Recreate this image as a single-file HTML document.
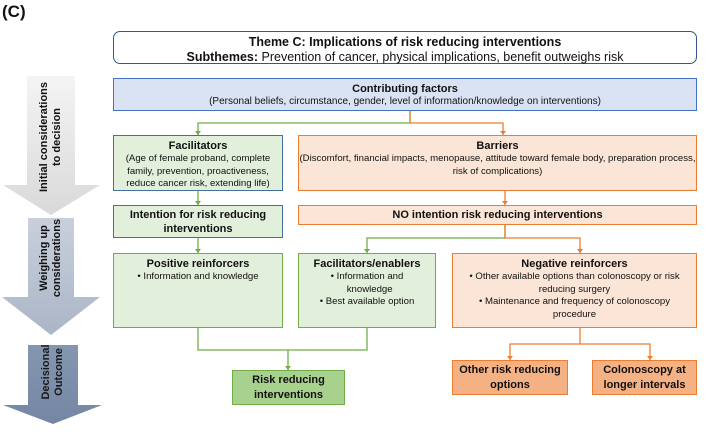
<!DOCTYPE html>
<html><head><meta charset="utf-8"><style>
body{margin:0;width:709px;height:424px;background:#fff;position:relative;overflow:hidden;font-family:"Liberation Sans",sans-serif;color:#111}
.b{position:absolute;box-sizing:border-box;text-align:center;font-size:9.6px;line-height:12.5px;padding-top:3px}
.b b{font-size:11px;display:block;line-height:14px}
.g{background:#e2efda;border:1.3px solid #70ad47}
.gb{background:#e2efda;border:1.3px solid #41719c}
.o{background:#fbe5d6;border:1.3px solid #ed7d31}
.vt{position:absolute;transform:rotate(-90deg);transform-origin:center;text-align:center;font-weight:bold;font-size:11px;line-height:13px;white-space:nowrap}
</style></head><body>
<div style="position:absolute;left:2px;top:2px;font-weight:bold;font-size:17px">(C)</div>
<svg width="709" height="424" style="position:absolute;left:0;top:0">
<defs><linearGradient id="a1" x1="0" y1="0" x2="0" y2="1"><stop offset="0" stop-color="#f4f4f4"/><stop offset="1" stop-color="#d9d9d9"/></linearGradient>
<linearGradient id="a2" x1="0" y1="0" x2="0" y2="1"><stop offset="0" stop-color="#c9d0dc"/><stop offset="1" stop-color="#aab5c6"/></linearGradient>
<linearGradient id="a3" x1="0" y1="0" x2="0" y2="1"><stop offset="0" stop-color="#8596b0"/><stop offset="1" stop-color="#7486a3"/></linearGradient></defs>
<polygon points="27,76 75,76 75,185 100,185 51,215 3,185 27,185" fill="url(#a1)"/>
<polygon points="28,218 74,218 74,297 100,297 51,335 2,297 28,297" fill="url(#a2)"/>
<polygon points="28,345 78,345 78,405 102,405 53,424 3,405 28,405" fill="url(#a3)"/>
<g fill="none" stroke-width="1.3">
<path d="M410,111V123H198V135" stroke="#70ad47"/>
<path d="M410,111V123H503V135" stroke="#ed7d31"/>
<path d="M198,191V205" stroke="#70ad47"/>
<path d="M505,191V205" stroke="#ed7d31"/>
<path d="M505,225V238H367V253" stroke="#70ad47"/>
<path d="M505,225V238H580V253" stroke="#ed7d31"/>
<path d="M198,238V253" stroke="#70ad47"/>
<path d="M198,328V350H367V328M288,350V370" stroke="#70ad47"/>
<path d="M580,328V344H510V360M580,344H650V360" stroke="#ed7d31"/>
</g>
<g fill="#70ad47"><polygon points="195,131 201,131 198,135"/><polygon points="364,249 370,249 367,253"/><polygon points="195,201 201,201 198,205"/><polygon points="195,249 201,249 198,253"/><polygon points="285,366 291,366 288,370"/></g>
<g fill="#ed7d31"><polygon points="500,131 506,131 503,135"/><polygon points="502,201 508,201 505,205"/><polygon points="577,249 583,249 580,253"/><polygon points="507,356 513,356 510,360"/><polygon points="647,356 653,356 650,360"/></g>
</svg>
<div class="vt" style="left:-9px;top:124px;width:120px">Initial considerations<br>to decision</div>
<div class="vt" style="left:-9px;top:245px;width:120px">Weighing up<br>considerations</div>
<div class="vt" style="left:-7px;top:359px;width:120px;color:#1a1a1a">Decisional<br>Outcome</div>
<div class="b" style="left:113px;top:31px;width:584px;height:33px;border:1.3px solid #2f5597;border-radius:7px;background:#fff;font-size:12.5px;line-height:15px;padding-top:3px"><b style="font-size:12.5px;line-height:15px">Theme C: Implications of risk reducing interventions</b><b style="display:inline;font-size:12.5px">Subthemes:</b> Prevention of cancer, physical implications, benefit outweighs risk</div>
<div class="b" style="left:113px;top:78px;width:584px;height:33px;background:#dae3f3;border:1.3px solid #4472c4;font-size:10px"><b>Contributing factors</b>(Personal beliefs, circumstance, gender, level of information/knowledge on interventions)</div>
<div class="b gb" style="left:113px;top:135px;width:170px;height:56px"><b>Facilitators</b>(Age of female proband, complete family, prevention, proactiveness, reduce cancer risk, extending life)</div>
<div class="b o" style="left:298px;top:135px;width:399px;height:56px"><b>Barriers</b>(Discomfort, financial impacts, menopause, attitude toward female body, preparation process, risk of complications)</div>
<div class="b gb" style="left:113px;top:205px;width:170px;height:33px;font-weight:bold;font-size:11px;line-height:14px;padding-top:2px">Intention for risk reducing interventions</div>
<div class="b o" style="left:298px;top:205px;width:399px;height:20px;font-weight:bold;font-size:11px;line-height:14px;padding-top:2px">NO intention risk reducing interventions</div>
<div class="b g" style="left:113px;top:253px;width:170px;height:75px"><b>Positive reinforcers</b>• Information and knowledge</div>
<div class="b g" style="left:298px;top:253px;width:138px;height:75px"><b>Facilitators/enablers</b>• Information and<br>&nbsp;&nbsp;knowledge<br>• Best available option</div>
<div class="b o" style="left:452px;top:253px;width:245px;height:75px;padding-left:4px;padding-right:4px"><b>Negative reinforcers</b>• Other available options than colonoscopy or risk reducing surgery<br>• Maintenance and frequency of colonoscopy procedure</div>
<div class="b" style="left:232px;top:370px;width:113px;height:35px;background:#a9d18e;border:1.3px solid #70ad47;font-weight:bold;font-size:11px;line-height:15px;padding-top:2px">Risk reducing interventions</div>
<div class="b" style="left:452px;top:360px;width:116px;height:35px;background:#f4b183;border:1.3px solid #ed7d31;font-weight:bold;font-size:11px;line-height:15px;padding-top:2px">Other risk reducing options</div>
<div class="b" style="left:592px;top:360px;width:105px;height:35px;background:#f4b183;border:1.3px solid #ed7d31;font-weight:bold;font-size:11px;line-height:15px;padding-top:2px">Colonoscopy at longer intervals</div>
</body></html>
